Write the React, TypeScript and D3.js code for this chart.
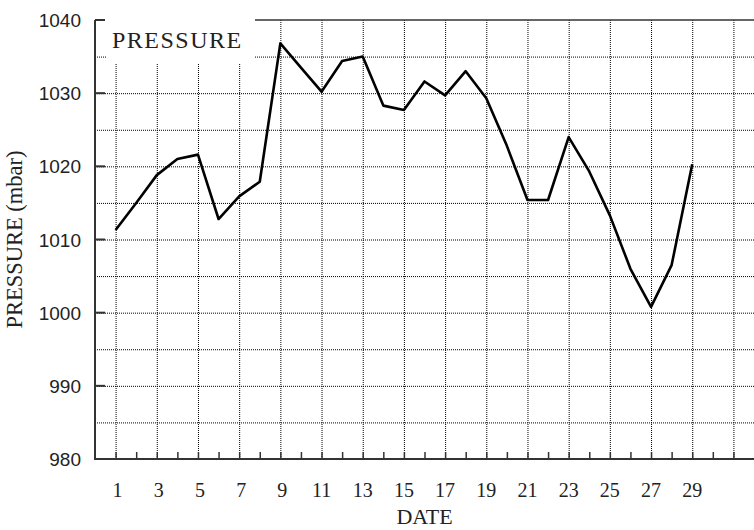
import React from "react";
import * as d3 from "d3";

const WIDTH = 754;
const HEIGHT = 530;

const dates = [
  1, 2, 3, 4, 5, 6, 7, 8, 9, 10, 11, 12, 13, 14, 15, 16, 17, 18, 19, 20, 21,
  22, 23, 24, 25, 26, 27, 28, 29,
];
const pressure = [
  1011.3, 1015.0, 1018.8, 1021.0, 1021.6, 1012.8, 1015.9, 1017.9, 1036.8,
  1033.5, 1030.2, 1034.4, 1035.0, 1028.3, 1027.7, 1031.6, 1029.7, 1033.0,
  1029.3, 1022.8, 1015.4, 1015.4, 1024.0, 1019.3, 1013.3, 1006.0, 1000.8,
  1006.5, 1020.3,
];
const yTicks = [980, 990, 1000, 1010, 1020, 1030, 1040];
const yGrid = [985, 990, 995, 1000, 1005, 1010, 1015, 1020, 1025, 1030, 1035];
const xGrid = [1, 3, 5, 7, 9, 11, 13, 15, 17, 19, 21, 23, 25, 27, 29, 31];
const xLabels = [1, 3, 5, 7, 9, 11, 13, 15, 17, 19, 21, 23, 25, 27, 29];

const LEFT = 95;
const RIGHT = 754;
const TOP = 20;
const BOTTOM = 459;

export default function App() {
  const x = d3.scaleLinear().domain([0, 32]).range([LEFT, RIGHT]);
  const y = d3.scaleLinear().domain([980, 1040]).range([BOTTOM, TOP]);

  const line = d3
    .line<number>()
    .x((_, i) => x(dates[i]))
    .y((d) => y(d));

  const minorTicks = d3.range(1, 32);

  return (
    <svg
      width={WIDTH}
      height={HEIGHT}
      style={{ position: "absolute", left: 0, top: 0, background: "#fff" }}
    >
      {/* grid */}
      <g stroke="#000" strokeWidth={1} strokeDasharray="1,1">
        {yGrid.map((v) => (
          <line key={"h" + v} x1={LEFT} x2={RIGHT} y1={y(v) + 0.5} y2={y(v) + 0.5} />
        ))}
        {xGrid.map((d) => (
          <line key={"v" + d} x1={x(d) + 0.5} x2={x(d) + 0.5} y1={TOP} y2={BOTTOM} />
        ))}
      </g>

      {/* title box */}
      <rect x={107} y={0} width={148} height={63} fill="#fff" />
      <text
        x={112}
        y={48}
        fontFamily="Liberation Serif"
        fontSize={24}
        letterSpacing={1.5}
        fill="#222"
      >
        PRESSURE
      </text>

      {/* axes */}
      <g stroke="#333" fill="none">
        <line x1={LEFT} x2={LEFT} y1={TOP} y2={BOTTOM + 1} strokeWidth={2} />
        <line x1={LEFT} x2={RIGHT} y1={BOTTOM} y2={BOTTOM} strokeWidth={2} />
        <line x1={255} x2={RIGHT} y1={TOP} y2={TOP} strokeWidth={1.5} />
        {yTicks.map((v) => (
          <line key={"yt" + v} x1={LEFT} x2={LEFT + 10} y1={y(v)} y2={y(v)} strokeWidth={2} />
        ))}
        {minorTicks.map((d) => (
          <line key={"xt" + d} x1={x(d) + 0.5} x2={x(d) + 0.5} y1={BOTTOM} y2={BOTTOM - 7} strokeWidth={1.5} />
        ))}
      </g>

      {/* y tick labels */}
      {yTicks.map((v) => (
        <text
          key={"yl" + v}
          x={81}
          y={y(v) + 7}
          textAnchor="end"
          fontFamily="Liberation Sans"
          fontSize={19}
          fill="#222"
        >
          {v}
        </text>
      ))}

      {/* x tick labels */}
      {xLabels.map((d) => (
        <text
          key={"xl" + d}
          x={x(d) + (d < 10 ? 2 : 0)}
          y={497}
          textAnchor="middle"
          fontFamily="Liberation Serif"
          fontSize={20}
          fill="#222"
        >
          {d}
        </text>
      ))}

      <text
        x={(LEFT + RIGHT) / 2}
        y={524}
        textAnchor="middle"
        fontFamily="Liberation Serif"
        fontSize={22}
        fill="#222"
      >
        DATE
      </text>
      <text
        transform={`translate(22,${(TOP + BOTTOM) / 2}) rotate(-90)`}
        textAnchor="middle"
        fontFamily="Liberation Serif"
        fontSize={22.5}
        fill="#222"
      >
        PRESSURE (mbar)
      </text>

      {/* data line */}
      <path
        d={line(pressure) || ""}
        fill="none"
        stroke="#000"
        strokeWidth={2.6}
        strokeLinejoin="round"
      />
    </svg>
  );
}
